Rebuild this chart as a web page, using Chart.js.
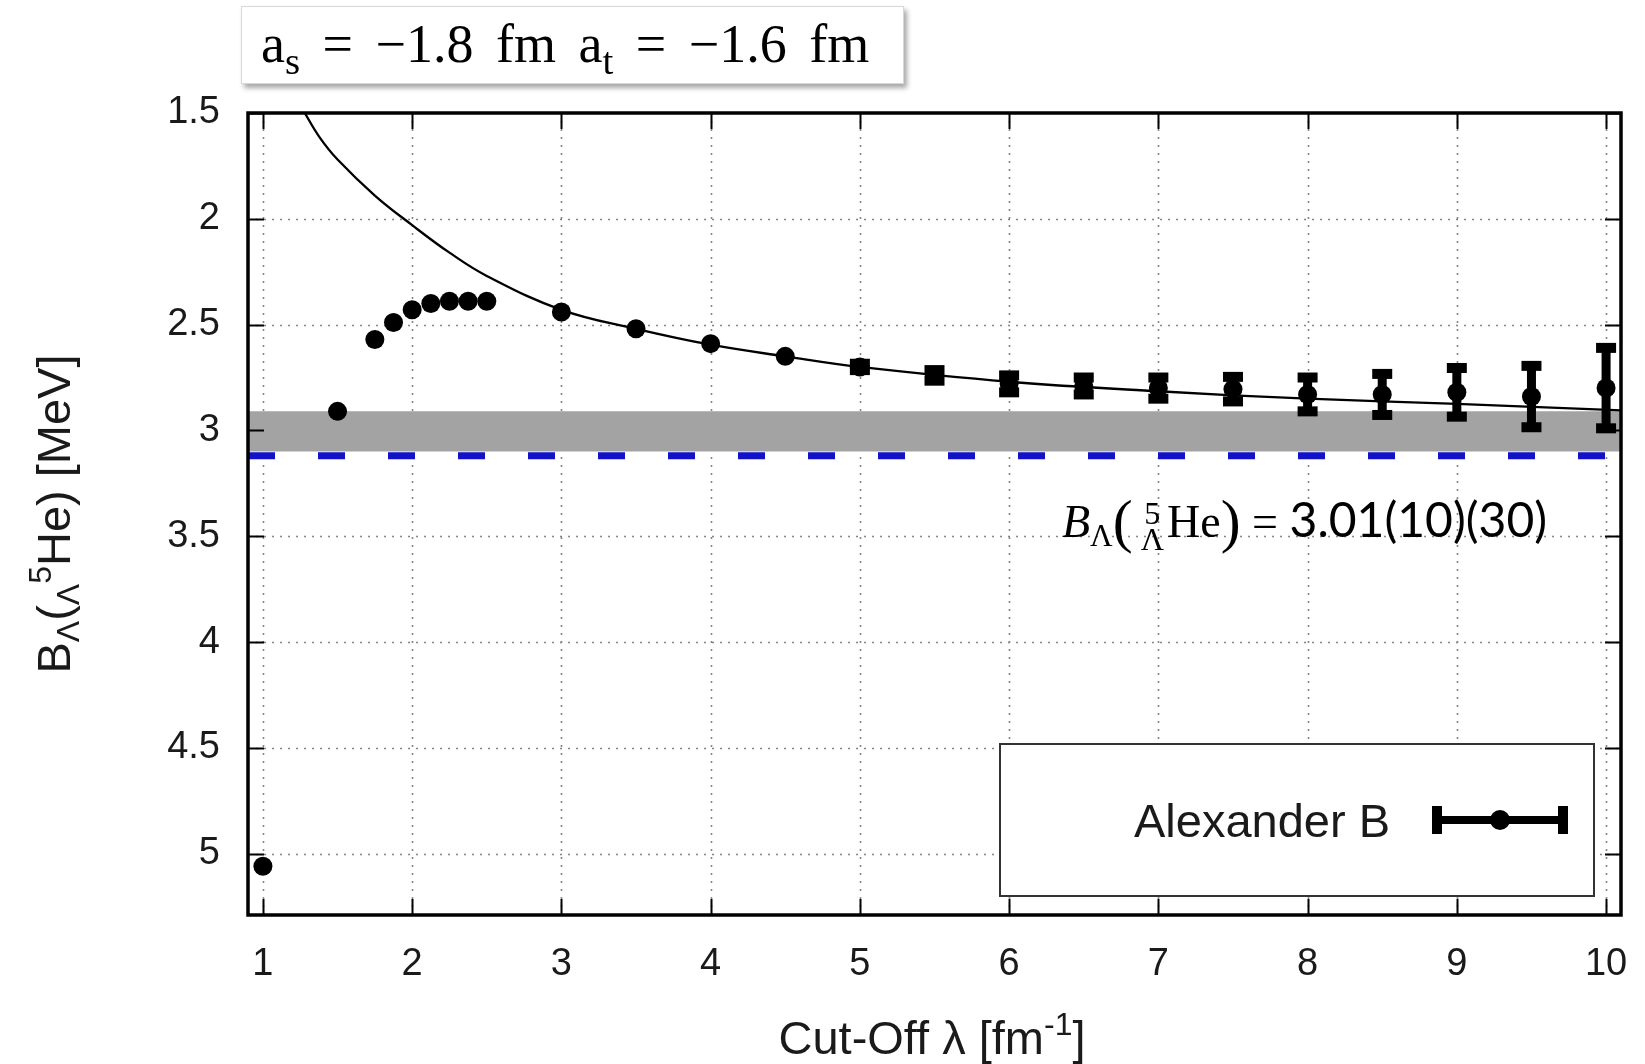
<!DOCTYPE html>
<html>
<head>
<meta charset="utf-8">
<title>B_Lambda(5He) vs cut-off</title>
<script src="https://cdn.jsdelivr.net/npm/chart.js@4.4.1/dist/chart.umd.min.js"></script>
<style>
  html, body { margin: 0; padding: 0; background: #fff; }
  #wrap { position: relative; width: 1645px; height: 1064px; overflow: hidden; background: #fff; }
  #plot { position: absolute; left: 0; top: 0; }
  .sub { font-size: 0.68em; vertical-align: -0.28em; line-height: 0; }
  .sup { font-size: 0.68em; vertical-align: 0.6em; line-height: 0; }

  #params {
    position: absolute; left: 241px; top: 6px; width: 663px; height: 78px;
    box-sizing: border-box; background: #fff; border: 1px solid #d8d8d8;
    box-shadow: 3px 4px 5px rgba(0, 0, 0, 0.35);
    font-family: "Liberation Serif", "DejaVu Serif", serif; font-size: 54px;
    line-height: 74px; padding-left: 19px; white-space: nowrap; color: #000;
    word-spacing: 9px;
  }
  #params .sub { font-size: 0.72em; vertical-align: -0.3em; }
  #note {
    position: absolute; left: 1062px; top: 489px; white-space: nowrap;
    font-family: "Liberation Serif", serif; font-size: 46px; line-height: 60px; color: #000;
  }
  #note .paren { font-size: 1.3em; vertical-align: -0.07em; line-height: 0; }
  #note .stack { display: inline-block; vertical-align: -0.4em; line-height: 0.8em;
                 font-size: 0.7em; text-align: center; margin: 0 3px 0 8px; }
  #note .stack span { display: block; }
  #note .cal { font-family: Lato, "Open Sans", sans-serif; font-size: 48px; }

  .axt { position: absolute; font-family: "Liberation Sans", Arial, sans-serif;
         font-size: 47px; line-height: 60px; color: #1a1a1a; white-space: nowrap; text-align: center; }
  #xtitle { left: 632px; top: 1008px; width: 600px; }
  #ytitle { left: -146px; top: 484px; width: 400px; transform: rotate(-90deg); }

  #legend { position: absolute; left: 999px; top: 743px; width: 596px; height: 154px;
            box-sizing: border-box; border: 2px solid #333; background: #fff; }
  #legtext { position: absolute; left: 900px; top: 791px; width: 490px; text-align: right;
             font-family: "Liberation Sans", Arial, sans-serif; font-size: 47px; line-height: 60px; color: #1a1a1a; }
  .lk { position: absolute; background: #000; }
</style>
</head>
<body>
<div id="wrap">
  <canvas id="plot" width="1645" height="1064"></canvas>

  <div id="params">a<span class="sub">s</span> = −1.8 fm a<span class="sub">t</span> = −1.6 fm</div>

  <div id="note"><i>B</i><span class="sub">Λ</span><span class="paren">(</span><span class="stack"><span>5</span><span>Λ</span></span>He<span class="paren">)</span> = <span class="cal">3.01(10)(30)</span></div>

  <div id="xtitle" class="axt">Cut-Off λ [fm<span class="sup">-1</span>]</div>
  <div id="ytitle" class="axt">B<span class="sub">Λ</span>(<span class="sub">Λ</span><span class="sup">5</span>He) [MeV]</div>

  <div id="legend"></div>
  <div id="legtext">Alexander B</div>
  <div class="lk" style="left:1432px; top:816px; width:136px; height:8px;"></div>
  <div class="lk" style="left:1432px; top:806px; width:10px; height:28px;"></div>
  <div class="lk" style="left:1558px; top:806px; width:10px; height:28px;"></div>
  <div class="lk" style="left:1490px; top:810px; width:20px; height:20px; border-radius:50%;"></div>
</div>

<script>
// Cut-off dependence of the Lambda separation energy of 5He (gnuplot-style figure).

// values
const LAMBDA = [1, 1.5, 1.75, 1.875, 2, 2.125, 2.25, 2.375, 2.5, 3, 3.5, 4,
                4.5, 5, 5.5, 6, 6.5, 7, 7.5, 8, 8.5, 9, 9.5, 10];
const B_LAMBDA = [5.06, 2.91, 2.57, 2.49, 2.43, 2.40, 2.39, 2.39, 2.39, 2.44, 2.52, 2.59,
                  2.65, 2.70, 2.74, 2.78, 2.79, 2.80, 2.805, 2.83, 2.83, 2.82, 2.84, 2.80];
const B_ERR = [0, 0, 0, 0, 0, 0, 0, 0, 0, 0, 0, 0,
               0, 0.015, 0.025, 0.04, 0.04, 0.05, 0.058, 0.08, 0.097, 0.115, 0.145, 0.19];

// extrapolation curve
const FIT_X = [1.28, 1.38, 1.5, 1.75, 2, 2.25, 2.5, 3, 3.5, 4, 4.5, 5, 6, 7, 8, 9, 10.1];
const FIT_Y = [1.5, 1.615, 1.72, 1.89, 2.03, 2.16, 2.27, 2.43, 2.52, 2.595, 2.65, 2.70,
               2.77, 2.815, 2.85, 2.875, 2.905];

// extrapolated value band 3.01(10) and the experimental line
const BAND_X = [0.9, 10.1];
const BAND_LO = [2.91, 2.91];
const BAND_HI = [3.10, 3.10];
const EXP_Y = [3.12, 3.12];

const X_TICKS = [1, 2, 3, 4, 5, 6, 7, 8, 9, 10];
const Y_TICKS = [1.5, 2, 2.5, 3, 3.5, 4, 4.5, 5];

const zip = (xs, ys) => xs.map((x, i) => ({ x, y: ys[i] }));

const gridPlugin = {
  id: "gnuGrid",
  beforeDatasetsDraw(chart) {
    const { ctx, chartArea: a, scales: { x, y } } = chart;
    ctx.save();
    ctx.strokeStyle = "#858585";
    ctx.lineWidth = 1.6;
    ctx.setLineDash([2, 6]);
    X_TICKS.forEach((v) => {
      const px = Math.round(x.getPixelForValue(v)) + 0.5;
      ctx.beginPath(); ctx.moveTo(px, a.top); ctx.lineTo(px, a.bottom); ctx.stroke();
    });
    Y_TICKS.forEach((v) => {
      const py = Math.round(y.getPixelForValue(v)) + 0.5;
      if (py - a.top < 3) return;
      ctx.beginPath(); ctx.moveTo(a.left, py); ctx.lineTo(a.right, py); ctx.stroke();
    });
    ctx.restore();
  },
};

const errorBarPlugin = {
  id: "errBars",
  afterDatasetsDraw(chart) {
    const { ctx, scales: { x, y } } = chart;
    ctx.save();
    ctx.fillStyle = "#000";
    LAMBDA.forEach((lam, i) => {
      if (!B_ERR[i]) return;
      const px = x.getPixelForValue(lam);
      const top = y.getPixelForValue(B_LAMBDA[i] - B_ERR[i]);
      const bot = y.getPixelForValue(B_LAMBDA[i] + B_ERR[i]);
      ctx.fillRect(px - 4.5, top, 9, bot - top);
      ctx.fillRect(px - 10, top - 5, 20, 10);
      ctx.fillRect(px - 10, bot - 5, 20, 10);
    });
    ctx.restore();
  },
};

const framePlugin = {
  id: "frame",
  afterDraw(chart) {
    const { ctx, chartArea: a, scales: { x, y } } = chart;
    ctx.save();
    ctx.strokeStyle = "#000";
    ctx.lineWidth = 2;
    const tl = 16;
    X_TICKS.forEach((v) => {
      const px = Math.round(x.getPixelForValue(v)) + 0.5;
      ctx.beginPath();
      ctx.moveTo(px, a.bottom); ctx.lineTo(px, a.bottom - tl);
      ctx.moveTo(px, a.top); ctx.lineTo(px, a.top + tl);
      ctx.stroke();
    });
    Y_TICKS.forEach((v) => {
      const py = Math.round(y.getPixelForValue(v)) + 0.5;
      ctx.beginPath();
      ctx.moveTo(a.left, py); ctx.lineTo(a.left + tl, py);
      ctx.moveTo(a.right, py); ctx.lineTo(a.right - tl, py);
      ctx.stroke();
    });
    ctx.lineWidth = 3.5;
    ctx.strokeRect(a.left, a.top, a.right - a.left, a.bottom - a.top);
    ctx.restore();
  },
};

const tickFont = { family: "'Liberation Sans', Arial, sans-serif", size: 38 };

new Chart(document.getElementById("plot").getContext("2d"), {
  type: "scatter",
  data: {
    datasets: [
      {
        label: "band low",
        data: zip(BAND_X, BAND_LO),
        showLine: true, borderWidth: 0, pointRadius: 0, fill: false,
        borderColor: "rgba(0,0,0,0)", order: 6,
      },
      {
        label: "band",
        data: zip(BAND_X, BAND_HI),
        showLine: true, borderWidth: 0, pointRadius: 0, fill: "-1",
        backgroundColor: "#a3a3a3", borderColor: "rgba(0,0,0,0)", order: 5,
      },
      {
        label: "experiment",
        data: zip(BAND_X, EXP_Y),
        showLine: true, borderWidth: 7, borderColor: "#1212c8",
        borderDash: [27, 43], borderCapStyle: "butt", pointRadius: 0, order: 4,
      },
      {
        label: "fit",
        data: zip(FIT_X, FIT_Y),
        showLine: true, borderWidth: 2.3, borderColor: "#000",
        tension: 0.4, pointRadius: 0, order: 2,
      },
      {
        label: "Alexander B",
        data: zip(LAMBDA, B_LAMBDA),
        showLine: false, pointRadius: 9.5, pointHoverRadius: 9.5,
        backgroundColor: "#000", borderWidth: 0, order: 1,
      },
    ],
  },
  options: {
    responsive: false,
    animation: false,
    devicePixelRatio: 1,
    layout: { padding: { left: 0, top: 113, right: 24, bottom: 0 } },
    plugins: { legend: { display: false }, tooltip: { enabled: false } },
    scales: {
      x: {
        type: "linear", min: 0.9, max: 10.1,
        afterBuildTicks: (s) => { s.ticks = X_TICKS.map((value) => ({ value })); },
        afterFit: (s) => { s.height = 149; s.paddingLeft = 0; s.paddingRight = 0; },
        grid: { display: false, drawTicks: false },
        border: { display: false },
        ticks: { font: tickFont, color: "#1a1a1a", padding: 27, maxRotation: 0,
                 callback: (v) => String(v) },
      },
      y: {
        type: "linear", min: 1.5, max: 5.29, reverse: true,
        afterBuildTicks: (s) => { s.ticks = Y_TICKS.map((value) => ({ value })); },
        afterFit: (s) => { s.width = 248; s.paddingTop = 0; s.paddingBottom = 0; },
        grid: { display: false, drawTicks: false },
        border: { display: false },
        ticks: { font: tickFont, color: "#1a1a1a", padding: 28,
                 callback: (v) => String(v) },
      },
    },
  },
  plugins: [gridPlugin, errorBarPlugin, framePlugin],
});
</script>
</body>
</html>
